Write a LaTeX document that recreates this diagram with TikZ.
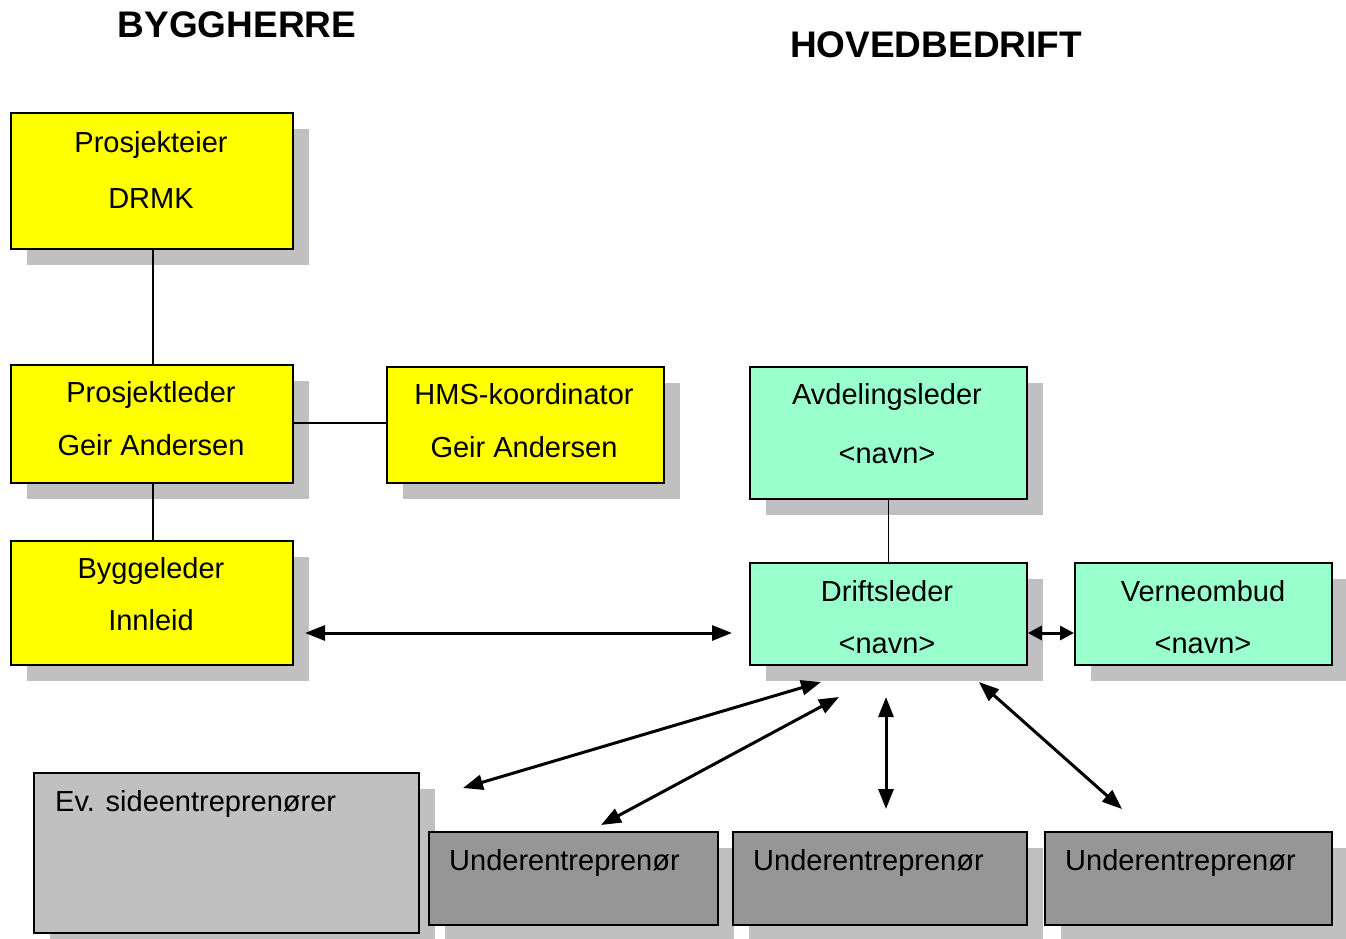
\documentclass[tikz,border=0pt]{standalone}
\usepackage{fontspec}
\setmainfont{Liberation Sans}
\usetikzlibrary{arrows.meta,shadows}
\definecolor{yel}{HTML}{FFFF00}
\definecolor{mint}{HTML}{99FFCC}
\definecolor{lgray}{HTML}{C0C0C0}
\definecolor{dgray}{HTML}{969696}
\definecolor{shgray}{HTML}{C0C0C0}
\tikzset{
  box/.style={draw=black, line width=1.8pt, rectangle, anchor=north west, inner sep=0pt,
    drop shadow={shadow xshift=16.5pt, shadow yshift=-16.5pt, fill=shgray, opacity=1}},
  ybox/.style={box, fill=yel},
  gbox/.style={box, fill=mint},
  lbox/.style={box, fill=lgray},
  dbox/.style={box, fill=dgray},
  txt/.style={font=\fontsize{29}{34}\selectfont, anchor=base, inner sep=0pt},
  ltxt/.style={font=\fontsize{29}{34}\selectfont, anchor=base west, inner sep=0pt},
  ttl/.style={font=\fontsize{37}{42}\selectfont\bfseries, anchor=base, inner sep=0pt},
  conn/.style={draw=black, line width=1.6pt},
  darrow/.style={draw=black, line width=3pt, {Triangle[length=20pt,width=15pt]}-{Triangle[length=20pt,width=15pt]}},
}
\begin{document}
\begin{tikzpicture}[x=1pt,y=-1pt]
\useasboundingbox (0,0) rectangle (1346,939);
% titles
\node[ttl] (t1) at (237,38) {BYGGHERRE};
\node[ttl] (t2) at (936,58) {HOVEDBEDRIFT};
% boxes
\node[ybox, minimum width=282pt, minimum height=136pt] (pe) at (10,112) {};
\node[ybox, minimum width=282pt, minimum height=118pt] (pl) at (10,364) {};
\node[ybox, minimum width=277pt, minimum height=116pt] (hms) at (386,366) {};
\node[ybox, minimum width=282pt, minimum height=124pt] (bl) at (10,540) {};
\node[gbox, minimum width=277pt, minimum height=132pt] (al) at (749,366) {};
\node[gbox, minimum width=277pt, minimum height=102pt] (dl) at (749,562) {};
\node[gbox, minimum width=257pt, minimum height=102pt] (vo) at (1074,562) {};
\node[lbox, minimum width=385pt, minimum height=160pt] (se) at (33,772) {};
\node[dbox, minimum width=289pt, minimum height=93pt] (u1) at (428,831) {};
\node[dbox, minimum width=294pt, minimum height=93pt] (u2) at (732,831) {};
\node[dbox, minimum width=287pt, minimum height=93pt] (u3) at (1044,831) {};
% texts
\node[txt] (pe1) at (151,152) {Prosjekteier};
\node[txt] (pe2) at (151,208) {DRMK};
\node[txt] (pl1) at (151,402) {Prosjektleder};
\node[txt] (pl2) at (151,455) {Geir Andersen};
\node[txt] (hm1) at (524,404) {HMS-koordinator};
\node[txt] (hm2) at (524,457) {Geir Andersen};
\node[txt] (bl1) at (151,578) {Byggeleder};
\node[txt] (bl2) at (151,630) {Innleid};
\node[txt] (al1) at (887,404) {Avdelingsleder};
\node[txt] (al2) at (887,463) {<navn>};
\node[txt] (dl1) at (887,601) {Driftsleder};
\node[txt] (dl2) at (887,653) {<navn>};
\node[txt] (vo1) at (1203,601) {Verneombud};
\node[txt] (vo2) at (1203,653) {<navn>};
\node[ltxt] (se1) at (55,811) {Ev. sideentreprenører};
\node[ltxt] (u1t) at (449,870) {Underentreprenør};
\node[ltxt] (u2t) at (753,870) {Underentreprenør};
\node[ltxt] (u3t) at (1065,870) {Underentreprenør};
% plain connectors
\draw[conn] (pe.south -| 153,0) -- (pl.north -| 153,0);
\draw[conn] (pl.east |- 0,423) -- (hms.west |- 0,423);
\draw[conn] (pl.south -| 153,0) -- (bl.north -| 153,0);
\draw[conn] (al.south) -- (dl.north);
% arrow end points
\coordinate (a1) at (305,633);
\coordinate (a2) at (732,633);
\coordinate (b1) at (463,788);
\coordinate (b2) at (821,682);
\coordinate (c1) at (601,825);
\coordinate (c2) at (839,697);
\coordinate (d1) at (886,697);
\coordinate (d2) at (886,809);
\coordinate (e1) at (979,682);
\coordinate (e2) at (1122,809);
% arrows
\draw[darrow] (a1) -- (a2);
\draw[darrow, {Triangle[length=14pt,width=14pt]}-{Triangle[length=14pt,width=14pt]}] (dl.east |- 0,633) -- (vo.west |- 0,633);
\draw[darrow] (b1) -- (b2);
\draw[darrow] (c1) -- (c2);
\draw[darrow] (d1) -- (d2);
\draw[darrow] (e1) -- (e2);
\end{tikzpicture}
\end{document}
